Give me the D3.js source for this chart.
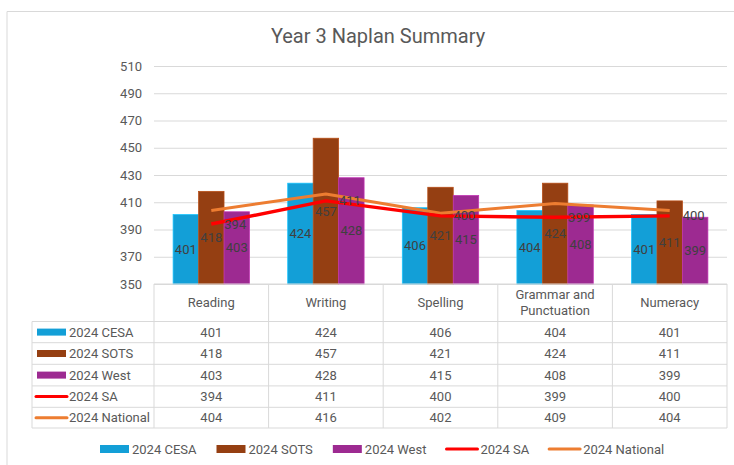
<!DOCTYPE html>
<html>
<head>
<meta charset="utf-8">
<script src="https://cdn.jsdelivr.net/npm/d3@7"></script>
<style>
  body { margin: 0; background: #fff; }
  svg text { font-family: Roboto, "Liberation Sans", sans-serif; }
</style>
</head>
<body>
<svg id="chart" width="734" height="465"></svg>
<script>
const categories = ["Reading", "Writing", "Spelling", "Grammar and\nPunctuation", "Numeracy"];
const barSeries = ["2024 CESA", "2024 SOTS", "2024 West"];
const lineSeries = ["2024 SA", "2024 National"];
const cesa = [401, 424, 406, 404, 401];
const sots = [418, 457, 421, 424, 411];
const west = [403, 428, 415, 408, 399];
const sa = [394, 411, 400, 399, 400];
const national = [404, 416, 402, 409, 404];
const yTicks = [350, 370, 390, 410, 430, 450, 470, 490, 510];

const barclr = ["#139FD7", "#953F12", "#9D2A91"];
const lineclr = ["#FF0000", "#ED7D31"];
const gridclr = "#D9D9D9";
const txtclr = "#595959";
const lblclr = "#404040";

const svg = d3.select("#chart");

// outer chart frame (cropped on the right and bottom)
svg.append("path")
  .attr("d", "M7,470 V11.5 H740")
  .attr("fill", "none").attr("stroke", gridclr).attr("stroke-width", 1);

svg.append("text")
  .attr("x", 378).attr("y", 43)
  .attr("text-anchor", "middle")
  .attr("font-size", 20).attr("fill", txtclr)
  .text("Year 3 Naplan Summary");

const x = d3.scaleBand().domain(categories).range([154, 727]);
const bw = x.bandwidth();
const x1 = d3.scaleBand().domain(barSeries).range([bw / 6, bw * 5 / 6]);
const y = d3.scaleLinear().domain([350, 510]).range([284, 66]);

// gridlines + tick labels
const yAxis = d3.axisLeft(y).tickValues(yTicks).tickSize(-(727 - 154)).tickPadding(12);
const ga = svg.append("g").attr("transform", "translate(154,0)").call(yAxis);
ga.select(".domain").remove();
ga.selectAll("line").attr("stroke", gridclr);
ga.selectAll("text").attr("font-size", 13).attr("fill", txtclr)
  .style("font-family", "Roboto, sans-serif");

// bars
const barData = [cesa, sots, west];
barData.forEach((vals, si) => {
  const g = svg.append("g");
  g.selectAll("rect").data(vals).join("rect")
    .attr("x", (d, i) => x(categories[i]) + x1(barSeries[si]))
    .attr("y", d => y(d))
    .attr("width", x1.bandwidth())
    .attr("height", d => y(350) - y(d))
    .attr("fill", barclr[si])
    .attr("stroke", d3.color(barclr[si]).brighter(0.6))
    .attr("stroke-width", 0.75);
  g.selectAll("text").data(vals).join("text")
    .attr("x", (d, i) => x(categories[i]) + x1(barSeries[si]) + x1.bandwidth() / 2)
    .attr("y", d => (y(d) + y(350)) / 2)
    .attr("dy", "0.35em")
    .attr("text-anchor", "middle")
    .attr("font-size", 13).attr("fill", lblclr)
    .text(d => d);
});

// lines
const lineData = [sa, national];
const line = d3.line()
  .x((d, i) => x(categories[i]) + bw / 2)
  .y(d => y(d));
[1, 0].forEach(si => {
  svg.append("path")
    .datum(lineData[si])
    .attr("d", line)
    .attr("fill", "none")
    .attr("stroke", lineclr[si])
    .attr("stroke-width", si === 0 ? 3.5 : 3)
    .attr("stroke-linejoin", "round");
});
// SA data labels (right of points)
svg.append("g").selectAll("text").data(sa).join("text")
  .attr("x", (d, i) => x(categories[i]) + bw / 2 + 13)
  .attr("y", d => y(d))
  .attr("dy", "0.35em")
  .attr("font-size", 13).attr("fill", lblclr)
  .text(d => d);

// data table
const rowTops = [321.5, 342.7, 364.3, 385.9, 407.3, 428];
const tbl = svg.append("g").attr("stroke", gridclr).attr("stroke-width", 1);
tbl.append("line").attr("x1", 154).attr("x2", 727).attr("y1", 284).attr("y2", 284);
rowTops.forEach(ry => {
  tbl.append("line").attr("x1", 32).attr("x2", 727).attr("y1", ry).attr("y2", ry);
});
tbl.append("line").attr("x1", 32).attr("x2", 32).attr("y1", rowTops[0]).attr("y2", 428);
categories.concat(["end"]).forEach((c, i) => {
  const xx = i < categories.length ? x(c) : 727;
  tbl.append("line").attr("x1", xx).attr("x2", xx).attr("y1", 284).attr("y2", 428);
});

// header labels
categories.forEach(c => {
  const parts = c.split("\n");
  const t = svg.append("text")
    .attr("x", x(c) + bw / 2)
    .attr("text-anchor", "middle")
    .attr("font-size", 13).attr("fill", txtclr);
  if (parts.length === 1) {
    t.attr("y", 302.5).attr("dy", "0.35em").text(c);
  } else {
    parts.forEach((p, k) => {
      t.append("tspan").attr("x", x(c) + bw / 2)
        .attr("y", 294 + k * 16.5).attr("dy", "0.35em").text(p);
    });
  }
});

// table rows
const allSeries = barSeries.concat(lineSeries);
const allVals = [cesa, sots, west, sa, national];
const allClr = barclr.concat(lineclr);
allSeries.forEach((s, r) => {
  const cy = (rowTops[r] + rowTops[r + 1]) / 2;
  if (r < 3) {
    svg.append("rect").attr("x", 37).attr("y", cy - 3.5).attr("width", 29).attr("height", 7)
      .attr("fill", allClr[r]);
  } else {
    svg.append("line").attr("x1", 36).attr("x2", 67).attr("y1", cy).attr("y2", cy)
      .attr("stroke", allClr[r]).attr("stroke-width", 3).attr("stroke-linecap", "round");
  }
  svg.append("text").attr("x", 69).attr("y", cy).attr("dy", "0.35em")
    .attr("font-size", 13).attr("fill", txtclr).text(s);
  svg.append("g").selectAll("text").data(allVals[r]).join("text")
    .attr("x", (d, i) => x(categories[i]) + bw / 2)
    .attr("y", cy).attr("dy", "0.35em")
    .attr("text-anchor", "middle")
    .attr("font-size", 13).attr("fill", txtclr)
    .text(d => d);
});

// bottom legend
const leg = svg.append("g");
let lx = 100;
const ly = 449;
allSeries.forEach((s, r) => {
  if (r < 3) {
    leg.append("rect").attr("x", lx).attr("y", ly - 4).attr("width", 29).attr("height", 8)
      .attr("fill", allClr[r]);
  } else {
    leg.append("line").attr("x1", lx).attr("x2", lx + 31).attr("y1", ly).attr("y2", ly)
      .attr("stroke", allClr[r]).attr("stroke-width", 3).attr("stroke-linecap", "round");
  }
  const t = leg.append("text").attr("x", lx + (r < 3 ? 32 : 34)).attr("y", ly).attr("dy", "0.35em")
    .attr("font-size", 13).attr("fill", txtclr).text(s);
  lx += (r < 3 ? 32 : 34) + t.node().getComputedTextLength() + 20;
});
</script>
</body>
</html>
